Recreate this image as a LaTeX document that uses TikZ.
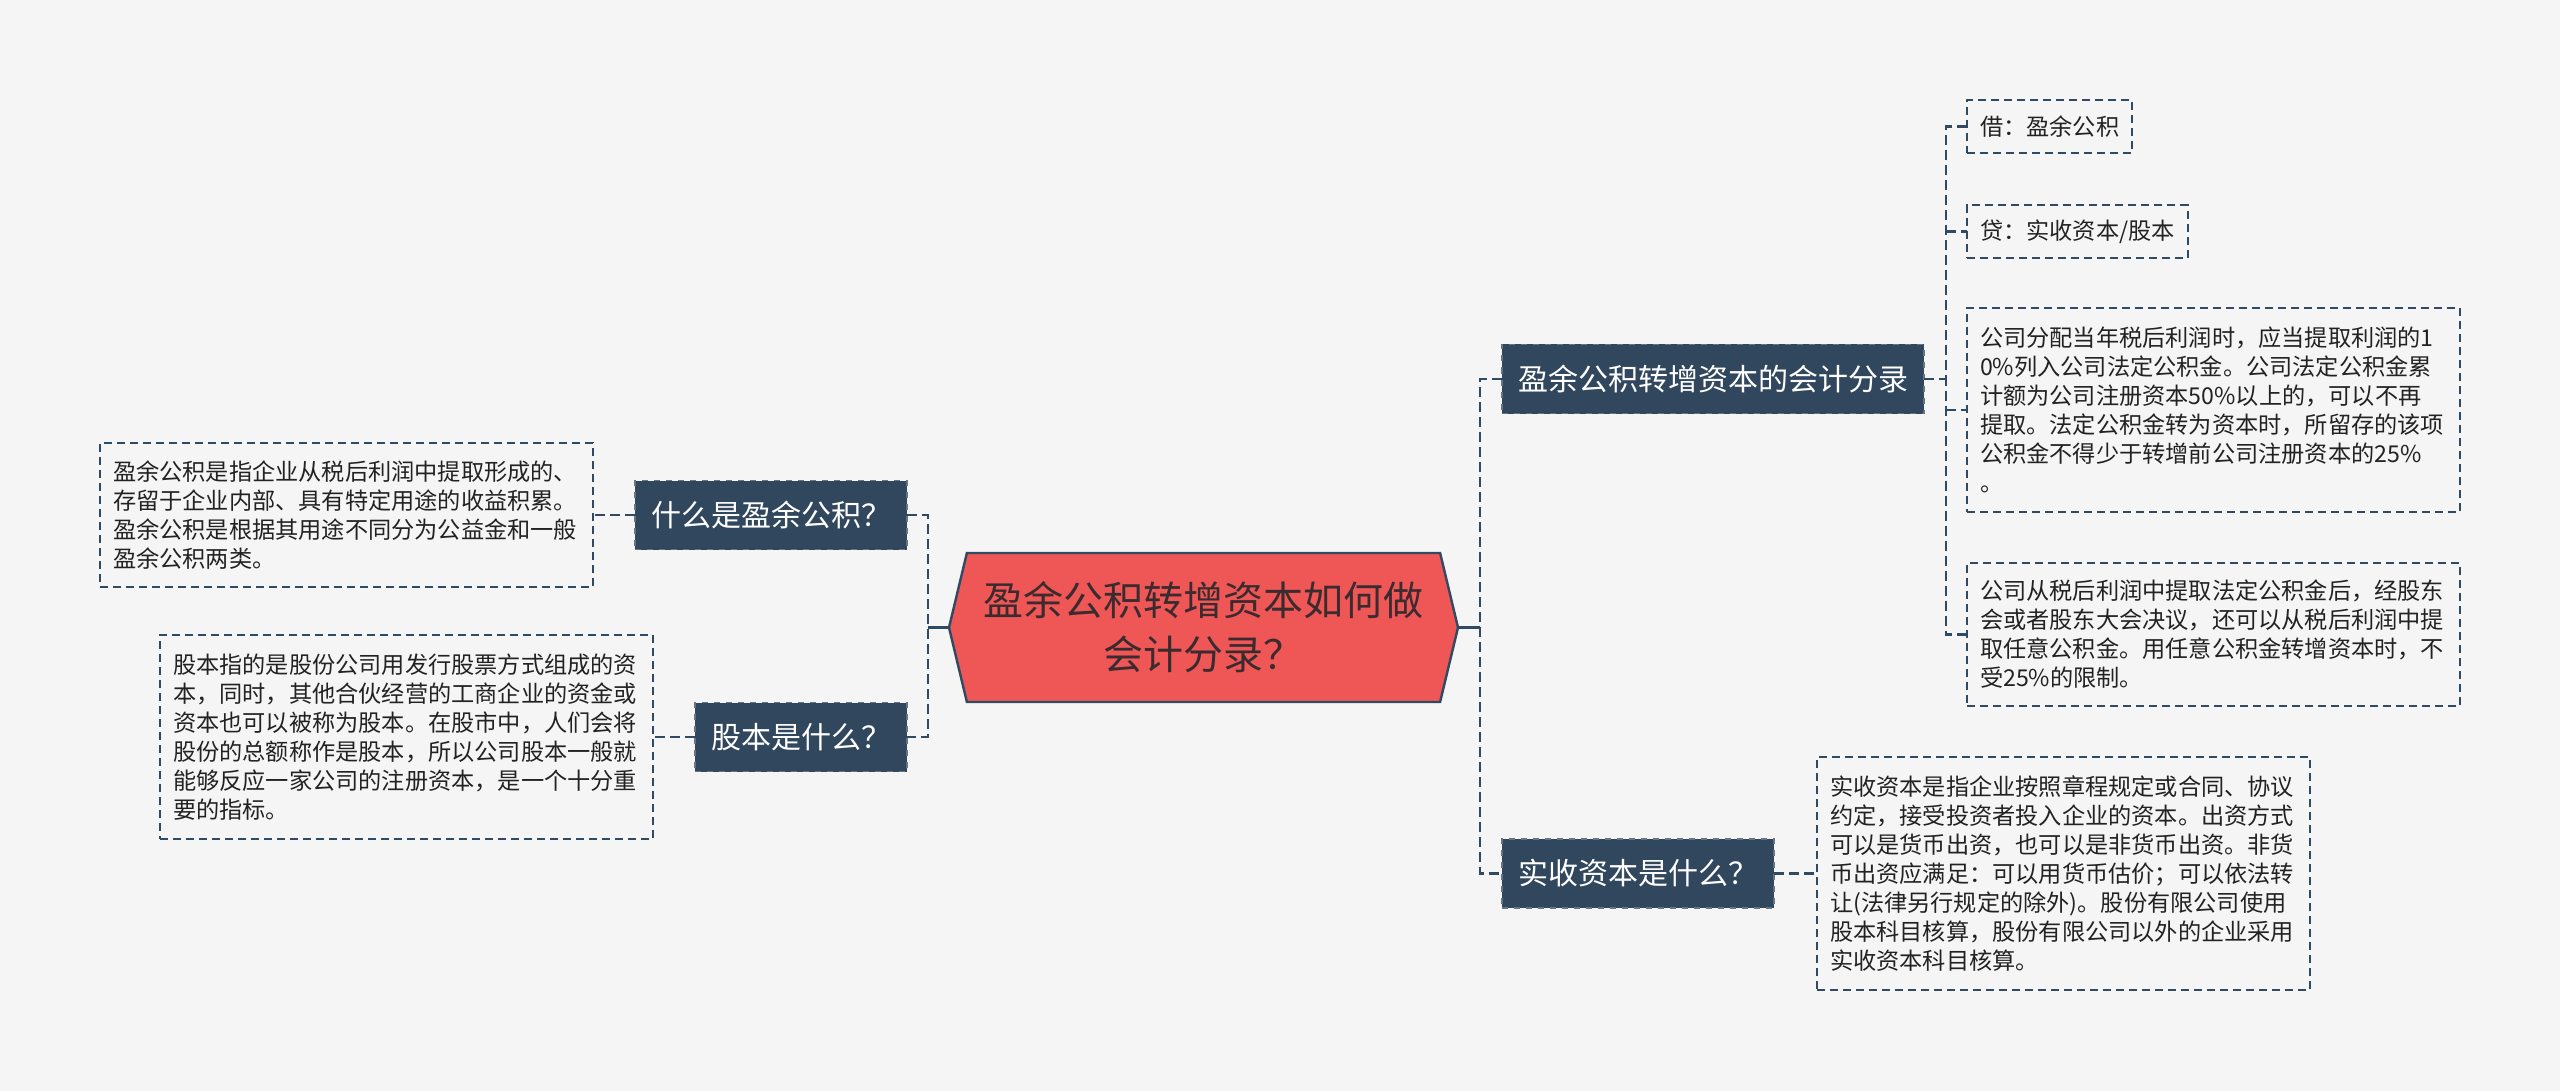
\documentclass[tikz,border=0pt]{standalone}
\usepackage{fontspec}
\setmainfont{Noto Sans CJK SC}
\usepackage{tikz}
\usetikzlibrary{shapes.symbols}% signal shape for the central topic
\definecolor{bgcol}{HTML}{F5F5F5}
\definecolor{navy}{HTML}{31475E}
\definecolor{navyline}{HTML}{2F4A62}
\definecolor{rootred}{HTML}{EF5757}
\definecolor{roottext}{HTML}{3B2B2F}
\definecolor{leaftext}{HTML}{222222}
\tikzset{every node/.style={inner sep=0pt, outer sep=0pt},
  root/.style={shape=signal, signal to=west and east, signal pointer angle=153,
    fill=rootred, draw=navyline, line width=1.2pt, minimum width=254.5pt,
    minimum height=74.5pt, align=center, text=roottext,
    font=\fontsize{20}{27}\selectfont},
  topic/.style={fill=navy, draw=navy!75!white, dashed, line width=0.8pt,
    text=white, inner xsep=8pt, minimum height=34.5pt,
    font=\fontsize{15}{18}\selectfont},
  leaf/.style={draw=navyline, dash pattern=on 4pt off 2.5pt, line width=0.8pt,
    text=leaftext, align=left, text width=233.5pt, inner xsep=6.5pt,
    font=\fontsize{11.6}{14.5}\selectfont},
  tag/.style={draw=navyline, dash pattern=on 4pt off 2.5pt, line width=0.8pt,
    text=leaftext, inner xsep=6.5pt, minimum height=26.5pt,
    font=\fontsize{11.6}{14}\selectfont},
  link/.style={draw=navyline, line width=1.2pt, dash pattern=on 5pt off 2.5pt},
  stem/.style={draw=navyline, line width=1.2pt}}

\begin{document}
\begin{tikzpicture}[x=0.5pt,y=-0.5pt]
  \fill[bgcol] (0,0) rectangle (2560,1091);
  \useasboundingbox (0,0) rectangle (2560,1091);
  % central topic
  \node[root] (root) at (1203.5,627.5) {盈余公积转增资本如何做\\会计分录？};
  % left side
  \node[topic, anchor=east] (whatis) at (907,515) {什么是盈余公积？};
  \node[topic, anchor=east] (guben) at (907,737) {股本是什么？};
  \node[leaf, anchor=east, minimum height=72pt] (yuyudef) at (593,515)
    {盈余公积是指企业从税后利润中提取形成的、\\
     存留于企业内部、具有特定用途的收益积累。\\
     盈余公积是根据其用途不同分为公益金和一般\\
     盈余公积两类。};
  \node[leaf, anchor=east, minimum height=102pt] (gubendef) at (653,737)
    {股本指的是股份公司用发行股票方式组成的资\\
     本，同时，其他合伙经营的工商企业的资金或\\
     资本也可以被称为股本。在股市中，人们会将\\
     股份的总额称作是股本，所以公司股本一般就\\
     能够反应一家公司的注册资本，是一个十分重\\
     要的指标。};
  % right side
  \node[topic, anchor=west] (entry) at (1502,379) {盈余公积转增资本的会计分录};
  \node[topic, anchor=west] (paidin) at (1502,873.5) {实收资本是什么？};
  \node[tag, anchor=west] (debit) at (1967,126.5) {借：盈余公积};
  \node[tag, anchor=west] (credit) at (1967,231.5) {贷：实收资本/股本};
  \node[leaf, anchor=west, minimum height=102pt] (note1) at (1967,410)
    {公司分配当年税后利润时，应当提取利润的1\\
     0\%列入公司法定公积金。公司法定公积金累\\
     计额为公司注册资本50\%以上的，可以不再\\
     提取。法定公积金转为资本时，所留存的该项\\
     公积金不得少于转增前公司注册资本的25\%\\
     。};
  \node[leaf, anchor=west, minimum height=71.5pt] (note2) at (1967,634.5)
    {公司从税后利润中提取法定公积金后，经股东\\
     会或者股东大会决议，还可以从税后利润中提\\
     取任意公积金。用任意公积金转增资本时，不\\
     受25\%的限制。};
  \node[leaf, anchor=west, minimum height=116.5pt] (paidindef) at (1817,873.5)
    {实收资本是指企业按照章程规定或合同、协议\\
     约定，接受投资者投入企业的资本。出资方式\\
     可以是货币出资，也可以是非货币出资。非货\\
     币出资应满足：可以用货币估价；可以依法转\\
     让(法律另行规定的除外)。股份有限公司使用\\
     股本科目核算，股份有限公司以外的企业采用\\
     实收资本科目核算。};
  % connectors
  \coordinate (jl) at (928,627.5);
  \coordinate (jr) at (1480,627.5);
  \coordinate (je) at (1946,379);
  \draw[stem] (root.west) -- (jl);
  \draw[link] (whatis.east) -| (jl) |- (guben.east);
  \draw[stem] (root.east) -- (jr);
  \draw[link] (entry.west) -| (jr) |- (paidin.west);
  \draw[link] (whatis.west) -- (yuyudef.east);
  \draw[link] (guben.west) -- (gubendef.east);
  \draw[link] (paidin.east) -- (paidindef.west);
  \draw[link] (entry.east) -- (je);
  \draw[link] (debit.west) -| (je) |- (note2.west);
  \draw[link] (je |- credit.west) -- (credit.west);
  \draw[link] (je |- note1.west) -- (note1.west);
\end{tikzpicture}
\end{document}
